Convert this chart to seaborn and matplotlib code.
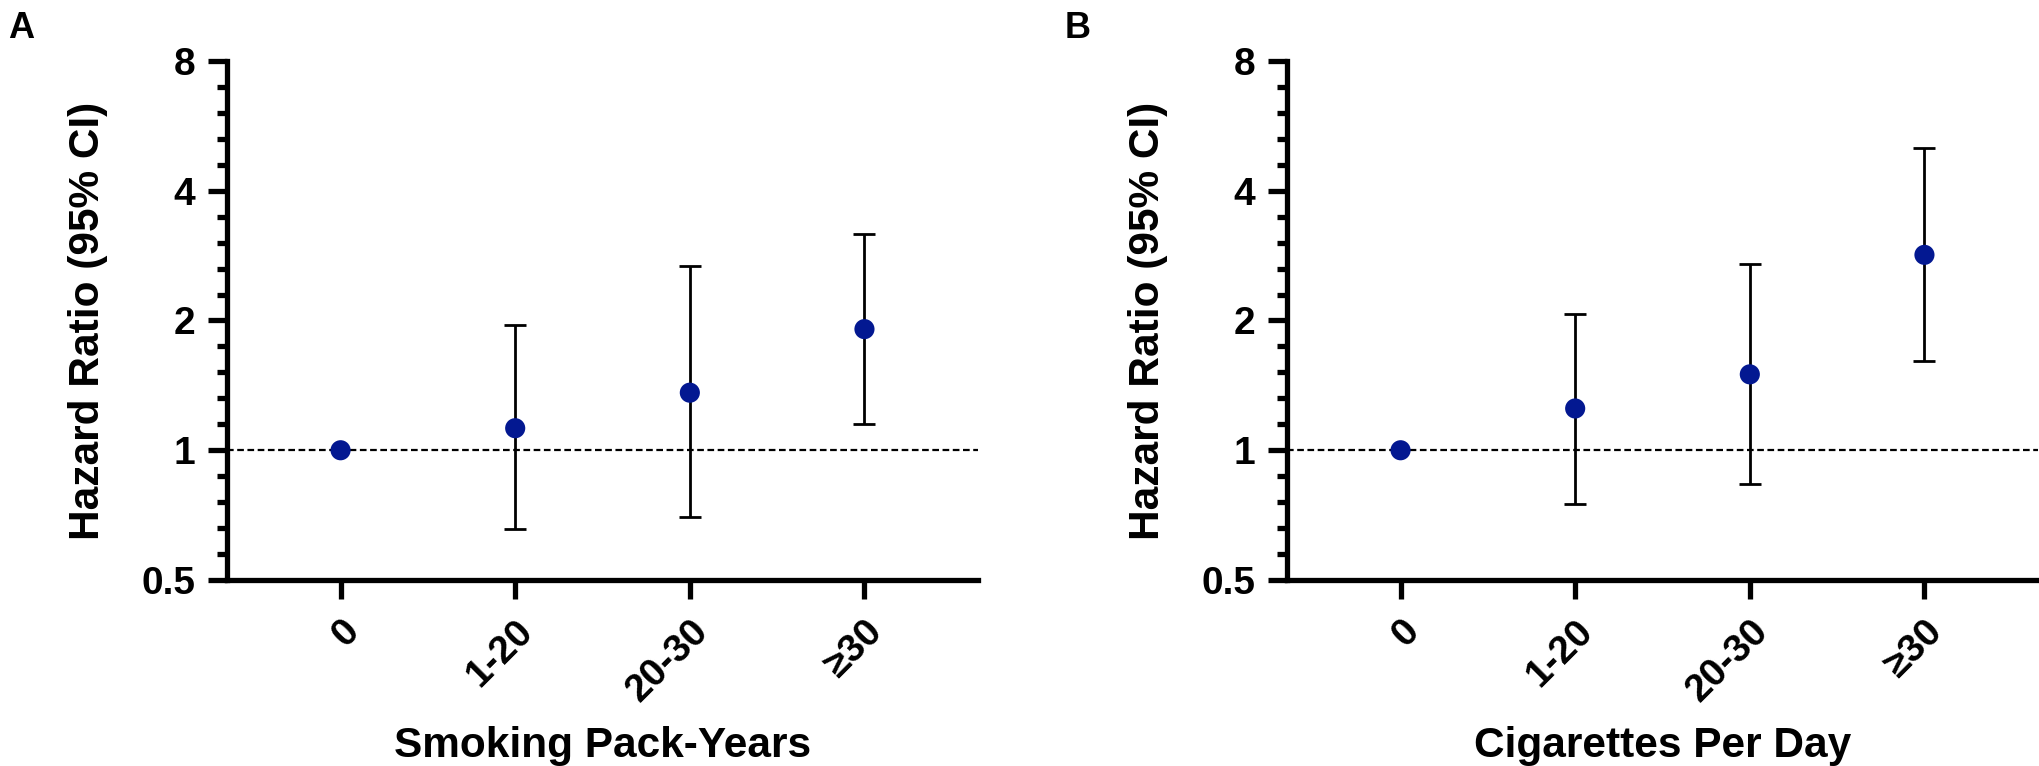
import numpy as np
import pandas as pd
import seaborn as sns
import matplotlib
matplotlib.use("Agg")
import matplotlib.pyplot as plt
from matplotlib.ticker import FixedLocator, NullFormatter

sns.set_style("ticks")
plt.rcParams["font.family"] = ["Liberation Sans", "DejaVu Sans"]
plt.rcParams["font.weight"] = "bold"
plt.rcParams["text.color"] = "black"
plt.rcParams["axes.labelcolor"] = "black"
plt.rcParams["xtick.color"] = "black"
plt.rcParams["ytick.color"] = "black"
plt.rcParams["axes.edgecolor"] = "black"

#Data
categories = ["0", "1-20", "20-30", "\u226530"]

pack_years_hr = [1.0, 1.125, 1.36, 1.91]
pack_years_low = [1.0, 0.655, 0.70, 1.15]
pack_years_high = [1.0, 1.95, 2.68, 3.18]

cig_day_hr = [1.0, 1.25, 1.50, 2.84]
cig_day_low = [1.0, 0.75, 0.835, 1.61]
cig_day_high = [1.0, 2.07, 2.71, 5.02]

panel_letters = ["A", "B"]
x_titles = ["Smoking Pack-Years", "Cigarettes Per Day"]
y_title = "Hazard Ratio (95% CI)"
y_ticks = [0.5, 1, 2, 4, 8]
y_ticklabels = ["0.5", "1", "2", "4", "8"]

point_color = "#031891"

def draw_panel(ax, hr, low, high, xtitle):
    df = pd.DataFrame({"pos": np.arange(len(categories)), "hr": hr, "low": low, "high": high})
    has_ci = df["high"] > df["low"]
    ax.errorbar(df["pos"][has_ci], df["hr"][has_ci],
                yerr=[df["hr"][has_ci] - df["low"][has_ci], df["high"][has_ci] - df["hr"][has_ci]],
                fmt="none", ecolor="black", elinewidth=2.0, capsize=8, capthick=2.0, zorder=2)
    ax.axhline(1, color="black", linestyle=(0, (3, 1.6)), linewidth=1.6, zorder=1)
    sns.scatterplot(data=df, x="pos", y="hr", ax=ax, color=point_color, s=210,
                    edgecolor="none", zorder=3, legend=False)

    ax.set_yscale("log", base=2)
    ax.set_ylim(0.5, 8)
    ax.set_xlim(-0.65, 3.65)
    ax.yaxis.set_major_locator(FixedLocator(y_ticks))
    ax.set_yticklabels(y_ticklabels)
    ax.yaxis.set_minor_locator(FixedLocator(2 ** (np.arange(-5, 16) / 5)))
    ax.yaxis.set_minor_formatter(NullFormatter())
    ax.set_xticks(df["pos"])
    ax.set_xticklabels(categories, rotation=45, ha="right", rotation_mode="anchor")

    sns.despine(ax=ax)
    for side in ["left", "bottom"]:
        ax.spines[side].set_linewidth(3.8)
    ax.tick_params(axis="both", which="major", width=3.8, length=14, labelsize=28)
    ax.tick_params(axis="y", which="major", pad=9)
    ax.tick_params(axis="y", which="minor", width=3.8, length=7.5)
    ax.tick_params(axis="x", which="minor", length=0)
    ax.tick_params(axis="x", which="major", pad=10)

    ax.set_xlabel(xtitle, fontsize=30.5, fontweight="bold", labelpad=12)
    ax.set_ylabel(y_title, fontsize=30.5, fontweight="bold", labelpad=24)

fig = plt.figure(figsize=(20.4, 7.66), dpi=100)
ax_a = fig.add_axes([0.1113, 0.2428, 0.3681, 0.6776])
ax_b = fig.add_axes([0.6309, 0.2428, 0.3681, 0.6776])

draw_panel(ax_a, pack_years_hr, pack_years_low, pack_years_high, x_titles[0])
draw_panel(ax_b, cig_day_hr, cig_day_low, cig_day_high, x_titles[1])

fig.text(0.004, 0.985, panel_letters[0], fontsize=26, fontweight="bold", va="top", ha="left")
fig.text(0.522, 0.985, panel_letters[1], fontsize=26, fontweight="bold", va="top", ha="left")

fig.savefig("out.png", dpi=100)
